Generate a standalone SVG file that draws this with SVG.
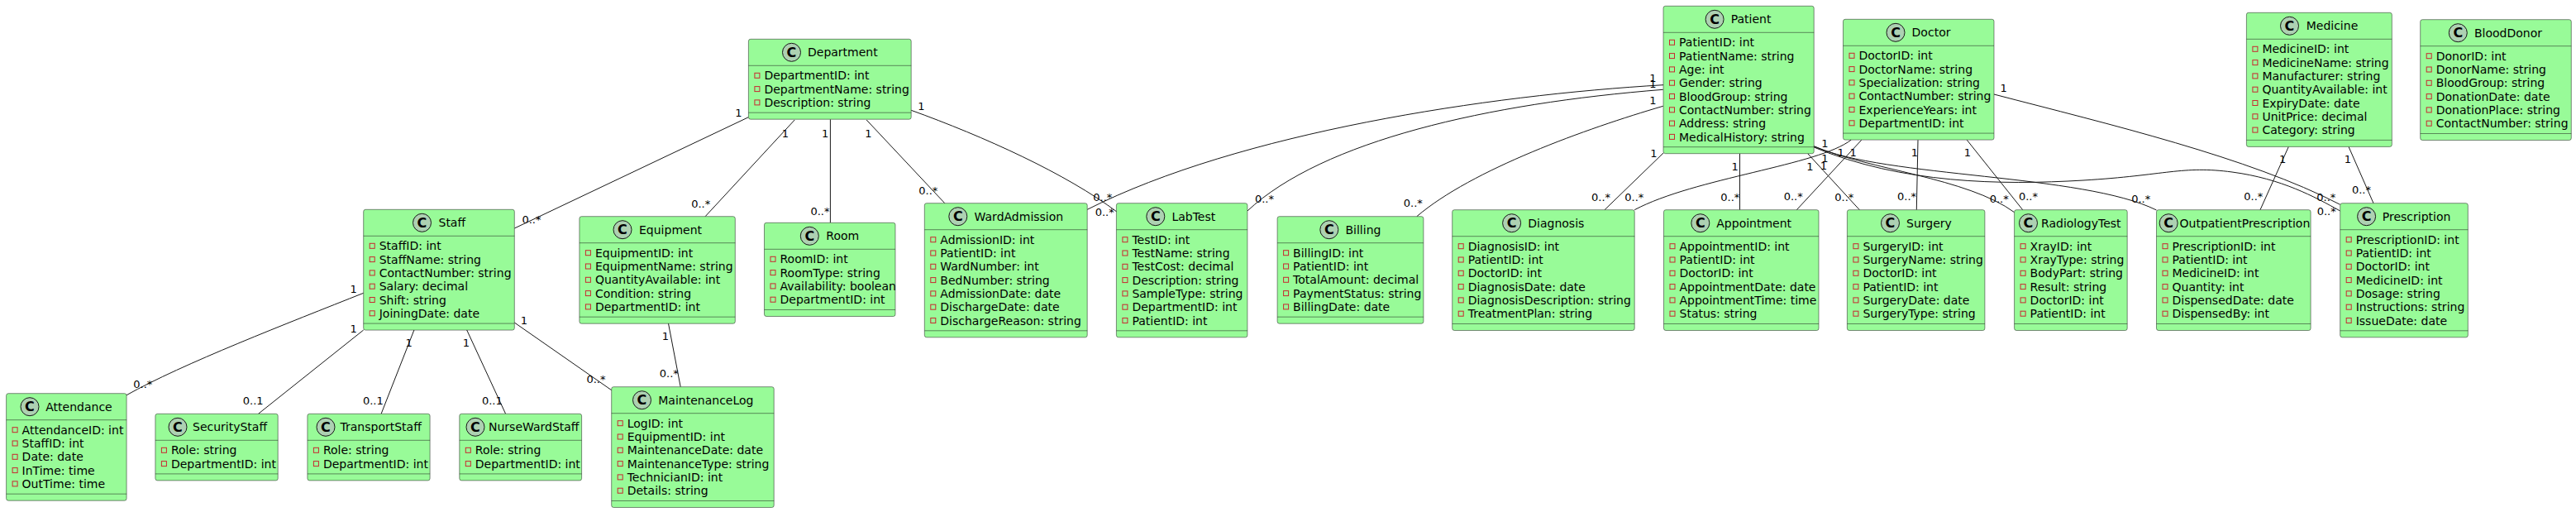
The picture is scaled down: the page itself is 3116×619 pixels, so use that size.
<svg xmlns="http://www.w3.org/2000/svg" width="3116" height="619" viewBox="0 0 3116 619">
<style>
.box{fill:#98FB98;stroke:#181818;stroke-width:0.5}
.dv{stroke:#181818;stroke-width:0.5}
.ci{fill:#ADD1B2;stroke:#181818;stroke-width:1}
.cl{font-family:"DejaVu Sans",sans-serif;font-weight:bold;font-size:16px;text-anchor:middle;fill:#000}
.t{font-family:"DejaVu Sans",sans-serif;font-size:14px;fill:#000}
.pv{fill:none;stroke:#C82930;stroke-width:1}
.e{fill:none;stroke:#181818;stroke-width:1}
.lb{font-family:"DejaVu Sans",sans-serif;font-size:13px;text-anchor:middle;fill:#000}
</style>
<rect width="3116" height="619" fill="#FFFFFF"/>

<g id="connectors">
<path class="e" d="M905.4,141.7 L622.3,276"/>
<path class="e" d="M961.2,145 L853.1,261.7"/>
<path class="e" d="M1004.4,144.3 L1004.4,269.3"/>
<path class="e" d="M1048.2,145 L1142.8,245.7"/>
<path class="e" d="M1102.2,133.3 C1190,165 1290,210 1351.8,256.7"/>
<path class="e" d="M2012,102.7 C1800,115 1500,160 1315.2,253.3"/>
<path class="e" d="M2011.7,108.3 C1800,125 1600,170 1508.9,255"/>
<path class="e" d="M2011.7,128.3 C1920,155 1780,205 1713.8,261.7"/>
<path class="e" d="M2012,185 L1941,253.7"/>
<path class="e" d="M2239.3,169 C2200,200 2050,215 1977.2,253.7"/>
<path class="e" d="M2104.5,185.7 L2104.5,253.7"/>
<path class="e" d="M2251.7,169.3 L2173.3,253.7"/>
<path class="e" d="M2186.7,185.7 L2249.3,253.7"/>
<path class="e" d="M2320,169.3 L2318.3,253.7"/>
<path class="e" d="M2379.3,169.3 L2446.7,253.7"/>
<path class="e" d="M2194.2,176.7 C2260,205 2380,215 2436.6,256.7"/>
<path class="e" d="M2194.2,177 C2280,215 2520,210 2608.5,254"/>
<path class="e" d="M2194.2,178 C2300,222 2420,224 2520,218 S2640,200 2700,208 S2800,238 2830.7,255"/>
<path class="e" d="M2412,114 C2550,150 2720,190 2830.7,247.3"/>
<path class="e" d="M2841,177.4 L2871,245.7"/>
<path class="e" d="M2768.3,177.4 L2734,253.7"/>
<path class="e" d="M439.7,354.3 C350,390 220,440 153.1,477.7"/>
<path class="e" d="M439.7,399 L312.5,500.3"/>
<path class="e" d="M500.9,399 L461.1,500.3"/>
<path class="e" d="M564.7,399 L611.6,500.3"/>
<path class="e" d="M622.3,390 L739.7,471.7"/>
<path class="e" d="M808.5,391 L823.2,467.7"/>

<text class="lb" x="893.3" y="141.4">1</text><text class="lb" x="642.9" y="269.7">0..*</text>
<text class="lb" x="950" y="165.7">1</text><text class="lb" x="847.7" y="251.4">0..*</text>
<text class="lb" x="998.2" y="165.7">1</text><text class="lb" x="992" y="259.7">0..*</text>
<text class="lb" x="1050.4" y="165.7">1</text><text class="lb" x="1122.8" y="234.7">0..*</text>
<text class="lb" x="1114.3" y="133">1</text><text class="lb" x="1336.2" y="261.4">0..*</text>
<text class="lb" x="1999.5" y="99">1</text><text class="lb" x="1333.8" y="243">0..*</text>
<text class="lb" x="1999.5" y="106.4">1</text><text class="lb" x="1529.5" y="245.4">0..*</text>
<text class="lb" x="1999.5" y="125.7">1</text><text class="lb" x="1709.3" y="250.4">0..*</text>
<text class="lb" x="2000.4" y="190.4">1</text><text class="lb" x="1936.6" y="243">0..*</text>
<text class="lb" x="2226.7" y="189">1</text><text class="lb" x="1976.8" y="243">0..*</text>
<text class="lb" x="2098.6" y="206.4">1</text><text class="lb" x="2092.8" y="243">0..*</text>
<text class="lb" x="2241.7" y="189">1</text><text class="lb" x="2169.2" y="242.4">0..*</text>
<text class="lb" x="2189.3" y="206.4">1</text><text class="lb" x="2230.8" y="243">0..*</text>
<text class="lb" x="2316" y="189">1</text><text class="lb" x="2306.6" y="242.4">0..*</text>
<text class="lb" x="2380" y="189">1</text><text class="lb" x="2453.5" y="242.4">0..*</text>
<text class="lb" x="2207.3" y="178">1</text><text class="lb" x="2418.2" y="245.4">0..*</text>
<text class="lb" x="2207.3" y="196.4">1</text><text class="lb" x="2589.7" y="244.7">0..*</text>
<text class="lb" x="2206" y="204.7">1</text><text class="lb" x="2814.2" y="260.4">0..*</text>
<text class="lb" x="2423.7" y="111.4">1</text><text class="lb" x="2813.8" y="243">0..*</text>
<text class="lb" x="2840" y="197.4">1</text><text class="lb" x="2856.5" y="234">0..*</text>
<text class="lb" x="2761.2" y="197.4">1</text><text class="lb" x="2725.8" y="242.4">0..*</text>
<text class="lb" x="427.7" y="353.7">1</text><text class="lb" x="172.8" y="469">0..*</text>
<text class="lb" x="427.7" y="402.4">1</text><text class="lb" x="306.2" y="489">0..1</text>
<text class="lb" x="494.6" y="419">1</text><text class="lb" x="451.3" y="489">0..1</text>
<text class="lb" x="563.8" y="419">1</text><text class="lb" x="595.3" y="489">0..1</text>
<text class="lb" x="633.9" y="392.4">1</text><text class="lb" x="721" y="463">0..*</text>
<text class="lb" x="804.9" y="411.4">1</text><text class="lb" x="809.3" y="456.4">0..*</text>
</g>

<g id="Department" transform="translate(905.4,47.3)">
<rect class="box" width="196.8" height="96.9" rx="2.5"/>
<circle class="ci" cx="52.1" cy="16" r="11"/><text class="cl" x="52.1" y="21.8">C</text>
<text class="t" x="71.6" y="21">Department</text>
<line class="dv" x1="0" y1="32" x2="196.8" y2="32"/>
<rect class="pv" x="7.5" y="41" width="6" height="6"/><text class="t" x="19" y="49.15">DepartmentID: int</text>
<rect class="pv" x="7.5" y="57.3" width="6" height="6"/><text class="t" x="19" y="65.45">DepartmentName: string</text>
<rect class="pv" x="7.5" y="73.6" width="6" height="6"/><text class="t" x="19" y="81.75">Description: string</text>
<line class="dv" x1="0" y1="88.9" x2="196.8" y2="88.9"/>
</g>

<g id="Staff" transform="translate(439.7,253.3)">
<rect class="box" width="182.6" height="145.8" rx="2.5"/>
<circle class="ci" cx="70.8" cy="16" r="11"/><text class="cl" x="70.8" y="21.8">C</text>
<text class="t" x="90.8" y="21">Staff</text>
<line class="dv" x1="0" y1="32" x2="182.6" y2="32"/>
<rect class="pv" x="7.5" y="41" width="6" height="6"/><text class="t" x="19" y="49.15">StaffID: int</text>
<rect class="pv" x="7.5" y="57.3" width="6" height="6"/><text class="t" x="19" y="65.45">StaffName: string</text>
<rect class="pv" x="7.5" y="73.6" width="6" height="6"/><text class="t" x="19" y="81.75">ContactNumber: string</text>
<rect class="pv" x="7.5" y="89.9" width="6" height="6"/><text class="t" x="19" y="98.05">Salary: decimal</text>
<rect class="pv" x="7.5" y="106.2" width="6" height="6"/><text class="t" x="19" y="114.35">Shift: string</text>
<rect class="pv" x="7.5" y="122.5" width="6" height="6"/><text class="t" x="19" y="130.65">JoiningDate: date</text>
<line class="dv" x1="0" y1="137.8" x2="182.6" y2="137.8"/>
</g>

<g id="Attendance" transform="translate(7.6,475.7)">
<rect class="box" width="145.5" height="129.5" rx="2.5"/>
<circle class="ci" cx="28.4" cy="16" r="11"/><text class="cl" x="28.4" y="21.8">C</text>
<text class="t" x="47.7" y="21">Attendance</text>
<line class="dv" x1="0" y1="32" x2="145.5" y2="32"/>
<rect class="pv" x="7.5" y="41" width="6" height="6"/><text class="t" x="19" y="49.15">AttendanceID: int</text>
<rect class="pv" x="7.5" y="57.3" width="6" height="6"/><text class="t" x="19" y="65.45">StaffID: int</text>
<rect class="pv" x="7.5" y="73.6" width="6" height="6"/><text class="t" x="19" y="81.75">Date: date</text>
<rect class="pv" x="7.5" y="89.9" width="6" height="6"/><text class="t" x="19" y="98.05">InTime: time</text>
<rect class="pv" x="7.5" y="106.2" width="6" height="6"/><text class="t" x="19" y="114.35">OutTime: time</text>
<line class="dv" x1="0" y1="121.5" x2="145.5" y2="121.5"/>
</g>

<g id="SecurityStaff" transform="translate(187.9,500.3)">
<rect class="box" width="148.3" height="80.6" rx="2.5"/>
<circle class="ci" cx="27.1" cy="16" r="11"/><text class="cl" x="27.1" y="21.8">C</text>
<text class="t" x="45.1" y="21">SecurityStaff</text>
<line class="dv" x1="0" y1="32" x2="148.3" y2="32"/>
<rect class="pv" x="7.5" y="41" width="6" height="6"/><text class="t" x="19" y="49.15">Role: string</text>
<rect class="pv" x="7.5" y="57.3" width="6" height="6"/><text class="t" x="19" y="65.45">DepartmentID: int</text>
<line class="dv" x1="0" y1="72.6" x2="148.3" y2="72.6"/>
</g>

<g id="TransportStaff" transform="translate(371.9,500.3)">
<rect class="box" width="148.2" height="80.6" rx="2.5"/>
<circle class="ci" cx="22.1" cy="16" r="11"/><text class="cl" x="22.1" y="21.8">C</text>
<text class="t" x="39.6" y="21">TransportStaff</text>
<line class="dv" x1="0" y1="32" x2="148.2" y2="32"/>
<rect class="pv" x="7.5" y="41" width="6" height="6"/><text class="t" x="19" y="49.15">Role: string</text>
<rect class="pv" x="7.5" y="57.3" width="6" height="6"/><text class="t" x="19" y="65.45">DepartmentID: int</text>
<line class="dv" x1="0" y1="72.6" x2="148.2" y2="72.6"/>
</g>

<g id="NurseWardStaff" transform="translate(555.8,500.3)">
<rect class="box" width="147.8" height="80.6" rx="2.5"/>
<circle class="ci" cx="19.2" cy="16" r="11"/><text class="cl" x="19.2" y="21.8">C</text>
<text class="t" x="35.2" y="21">NurseWardStaff</text>
<line class="dv" x1="0" y1="32" x2="147.8" y2="32"/>
<rect class="pv" x="7.5" y="41" width="6" height="6"/><text class="t" x="19" y="49.15">Role: string</text>
<rect class="pv" x="7.5" y="57.3" width="6" height="6"/><text class="t" x="19" y="65.45">DepartmentID: int</text>
<line class="dv" x1="0" y1="72.6" x2="147.8" y2="72.6"/>
</g>

<g id="MaintenanceLog" transform="translate(739.7,467.7)">
<rect class="box" width="196.5" height="145.8" rx="2.5"/>
<circle class="ci" cx="36.8" cy="16" r="11"/><text class="cl" x="36.8" y="21.8">C</text>
<text class="t" x="56.6" y="21">MaintenanceLog</text>
<line class="dv" x1="0" y1="32" x2="196.5" y2="32"/>
<rect class="pv" x="7.5" y="41" width="6" height="6"/><text class="t" x="19" y="49.15">LogID: int</text>
<rect class="pv" x="7.5" y="57.3" width="6" height="6"/><text class="t" x="19" y="65.45">EquipmentID: int</text>
<rect class="pv" x="7.5" y="73.6" width="6" height="6"/><text class="t" x="19" y="81.75">MaintenanceDate: date</text>
<rect class="pv" x="7.5" y="89.9" width="6" height="6"/><text class="t" x="19" y="98.05">MaintenanceType: string</text>
<rect class="pv" x="7.5" y="106.2" width="6" height="6"/><text class="t" x="19" y="114.35">TechnicianID: int</text>
<rect class="pv" x="7.5" y="122.5" width="6" height="6"/><text class="t" x="19" y="130.65">Details: string</text>
<line class="dv" x1="0" y1="137.8" x2="196.5" y2="137.8"/>
</g>

<g id="Equipment" transform="translate(700.9,261.7)">
<rect class="box" width="188.4" height="129.5" rx="2.5"/>
<circle class="ci" cx="52.1" cy="16" r="11"/><text class="cl" x="52.1" y="21.8">C</text>
<text class="t" x="72.1" y="21">Equipment</text>
<line class="dv" x1="0" y1="32" x2="188.4" y2="32"/>
<rect class="pv" x="7.5" y="41" width="6" height="6"/><text class="t" x="19" y="49.15">EquipmentID: int</text>
<rect class="pv" x="7.5" y="57.3" width="6" height="6"/><text class="t" x="19" y="65.45">EquipmentName: string</text>
<rect class="pv" x="7.5" y="73.6" width="6" height="6"/><text class="t" x="19" y="81.75">QuantityAvailable: int</text>
<rect class="pv" x="7.5" y="89.9" width="6" height="6"/><text class="t" x="19" y="98.05">Condition: string</text>
<rect class="pv" x="7.5" y="106.2" width="6" height="6"/><text class="t" x="19" y="114.35">DepartmentID: int</text>
<line class="dv" x1="0" y1="121.5" x2="188.4" y2="121.5"/>
</g>

<g id="Room" transform="translate(924.5,269.3)">
<rect class="box" width="158.5" height="113.2" rx="2.5"/>
<circle class="ci" cx="54.8" cy="16" r="11"/><text class="cl" x="54.8" y="21.8">C</text>
<text class="t" x="74.8" y="21">Room</text>
<line class="dv" x1="0" y1="32" x2="158.5" y2="32"/>
<rect class="pv" x="7.5" y="41" width="6" height="6"/><text class="t" x="19" y="49.15">RoomID: int</text>
<rect class="pv" x="7.5" y="57.3" width="6" height="6"/><text class="t" x="19" y="65.45">RoomType: string</text>
<rect class="pv" x="7.5" y="73.6" width="6" height="6"/><text class="t" x="19" y="81.75">Availability: boolean</text>
<rect class="pv" x="7.5" y="89.9" width="6" height="6"/><text class="t" x="19" y="98.05">DepartmentID: int</text>
<line class="dv" x1="0" y1="105.2" x2="158.5" y2="105.2"/>
</g>

<g id="WardAdmission" transform="translate(1118.3,245.7)">
<rect class="box" width="196.9" height="162.1" rx="2.5"/>
<circle class="ci" cx="40.5" cy="16" r="11"/><text class="cl" x="40.5" y="21.8">C</text>
<text class="t" x="60.3" y="21">WardAdmission</text>
<line class="dv" x1="0" y1="32" x2="196.9" y2="32"/>
<rect class="pv" x="7.5" y="41" width="6" height="6"/><text class="t" x="19" y="49.15">AdmissionID: int</text>
<rect class="pv" x="7.5" y="57.3" width="6" height="6"/><text class="t" x="19" y="65.45">PatientID: int</text>
<rect class="pv" x="7.5" y="73.6" width="6" height="6"/><text class="t" x="19" y="81.75">WardNumber: int</text>
<rect class="pv" x="7.5" y="89.9" width="6" height="6"/><text class="t" x="19" y="98.05">BedNumber: string</text>
<rect class="pv" x="7.5" y="106.2" width="6" height="6"/><text class="t" x="19" y="114.35">AdmissionDate: date</text>
<rect class="pv" x="7.5" y="122.5" width="6" height="6"/><text class="t" x="19" y="130.65">DischargeDate: date</text>
<rect class="pv" x="7.5" y="138.8" width="6" height="6"/><text class="t" x="19" y="146.95">DischargeReason: string</text>
<line class="dv" x1="0" y1="154.1" x2="196.9" y2="154.1"/>
</g>

<g id="LabTest" transform="translate(1350.4,245.7)">
<rect class="box" width="158.5" height="162.1" rx="2.5"/>
<circle class="ci" cx="47.4" cy="16" r="11"/><text class="cl" x="47.4" y="21.8">C</text>
<text class="t" x="67" y="21">LabTest</text>
<line class="dv" x1="0" y1="32" x2="158.5" y2="32"/>
<rect class="pv" x="7.5" y="41" width="6" height="6"/><text class="t" x="19" y="49.15">TestID: int</text>
<rect class="pv" x="7.5" y="57.3" width="6" height="6"/><text class="t" x="19" y="65.45">TestName: string</text>
<rect class="pv" x="7.5" y="73.6" width="6" height="6"/><text class="t" x="19" y="81.75">TestCost: decimal</text>
<rect class="pv" x="7.5" y="89.9" width="6" height="6"/><text class="t" x="19" y="98.05">Description: string</text>
<rect class="pv" x="7.5" y="106.2" width="6" height="6"/><text class="t" x="19" y="114.35">SampleType: string</text>
<rect class="pv" x="7.5" y="122.5" width="6" height="6"/><text class="t" x="19" y="130.65">DepartmentID: int</text>
<rect class="pv" x="7.5" y="138.8" width="6" height="6"/><text class="t" x="19" y="146.95">PatientID: int</text>
<line class="dv" x1="0" y1="154.1" x2="158.5" y2="154.1"/>
</g>

<g id="Billing" transform="translate(1545.1,261.7)">
<rect class="box" width="176.8" height="129.5" rx="2.5"/>
<circle class="ci" cx="62.7" cy="16" r="11"/><text class="cl" x="62.7" y="21.8">C</text>
<text class="t" x="82.4" y="21">Billing</text>
<line class="dv" x1="0" y1="32" x2="176.8" y2="32"/>
<rect class="pv" x="7.5" y="41" width="6" height="6"/><text class="t" x="19" y="49.15">BillingID: int</text>
<rect class="pv" x="7.5" y="57.3" width="6" height="6"/><text class="t" x="19" y="65.45">PatientID: int</text>
<rect class="pv" x="7.5" y="73.6" width="6" height="6"/><text class="t" x="19" y="81.75">TotalAmount: decimal</text>
<rect class="pv" x="7.5" y="89.9" width="6" height="6"/><text class="t" x="19" y="98.05">PaymentStatus: string</text>
<rect class="pv" x="7.5" y="106.2" width="6" height="6"/><text class="t" x="19" y="114.35">BillingDate: date</text>
<line class="dv" x1="0" y1="121.5" x2="176.8" y2="121.5"/>
</g>

<g id="Diagnosis" transform="translate(1756.7,253.7)">
<rect class="box" width="220.5" height="145.8" rx="2.5"/>
<circle class="ci" cx="71.9" cy="16" r="11"/><text class="cl" x="71.9" y="21.8">C</text>
<text class="t" x="91.6" y="21">Diagnosis</text>
<line class="dv" x1="0" y1="32" x2="220.5" y2="32"/>
<rect class="pv" x="7.5" y="41" width="6" height="6"/><text class="t" x="19" y="49.15">DiagnosisID: int</text>
<rect class="pv" x="7.5" y="57.3" width="6" height="6"/><text class="t" x="19" y="65.45">PatientID: int</text>
<rect class="pv" x="7.5" y="73.6" width="6" height="6"/><text class="t" x="19" y="81.75">DoctorID: int</text>
<rect class="pv" x="7.5" y="89.9" width="6" height="6"/><text class="t" x="19" y="98.05">DiagnosisDate: date</text>
<rect class="pv" x="7.5" y="106.2" width="6" height="6"/><text class="t" x="19" y="114.35">DiagnosisDescription: string</text>
<rect class="pv" x="7.5" y="122.5" width="6" height="6"/><text class="t" x="19" y="130.65">TreatmentPlan: string</text>
<line class="dv" x1="0" y1="137.8" x2="220.5" y2="137.8"/>
</g>

<g id="Patient" transform="translate(2012,7.3)">
<rect class="box" width="182.2" height="178.4" rx="2.5"/>
<circle class="ci" cx="62.1" cy="16" r="11"/><text class="cl" x="62.1" y="21.8">C</text>
<text class="t" x="81.7" y="21">Patient</text>
<line class="dv" x1="0" y1="32" x2="182.2" y2="32"/>
<rect class="pv" x="7.5" y="41" width="6" height="6"/><text class="t" x="19" y="49.15">PatientID: int</text>
<rect class="pv" x="7.5" y="57.3" width="6" height="6"/><text class="t" x="19" y="65.45">PatientName: string</text>
<rect class="pv" x="7.5" y="73.6" width="6" height="6"/><text class="t" x="19" y="81.75">Age: int</text>
<rect class="pv" x="7.5" y="89.9" width="6" height="6"/><text class="t" x="19" y="98.05">Gender: string</text>
<rect class="pv" x="7.5" y="106.2" width="6" height="6"/><text class="t" x="19" y="114.35">BloodGroup: string</text>
<rect class="pv" x="7.5" y="122.5" width="6" height="6"/><text class="t" x="19" y="130.65">ContactNumber: string</text>
<rect class="pv" x="7.5" y="138.8" width="6" height="6"/><text class="t" x="19" y="146.95">Address: string</text>
<rect class="pv" x="7.5" y="155.1" width="6" height="6"/><text class="t" x="19" y="163.25">MedicalHistory: string</text>
<line class="dv" x1="0" y1="170.4" x2="182.2" y2="170.4"/>
</g>

<g id="Appointment" transform="translate(2012.5,253.7)">
<rect class="box" width="187.5" height="145.8" rx="2.5"/>
<circle class="ci" cx="44.3" cy="16" r="11"/><text class="cl" x="44.3" y="21.8">C</text>
<text class="t" x="63.8" y="21">Appointment</text>
<line class="dv" x1="0" y1="32" x2="187.5" y2="32"/>
<rect class="pv" x="7.5" y="41" width="6" height="6"/><text class="t" x="19" y="49.15">AppointmentID: int</text>
<rect class="pv" x="7.5" y="57.3" width="6" height="6"/><text class="t" x="19" y="65.45">PatientID: int</text>
<rect class="pv" x="7.5" y="73.6" width="6" height="6"/><text class="t" x="19" y="81.75">DoctorID: int</text>
<rect class="pv" x="7.5" y="89.9" width="6" height="6"/><text class="t" x="19" y="98.05">AppointmentDate: date</text>
<rect class="pv" x="7.5" y="106.2" width="6" height="6"/><text class="t" x="19" y="114.35">AppointmentTime: time</text>
<rect class="pv" x="7.5" y="122.5" width="6" height="6"/><text class="t" x="19" y="130.65">Status: string</text>
<line class="dv" x1="0" y1="137.8" x2="187.5" y2="137.8"/>
</g>

<g id="Doctor" transform="translate(2229.5,23.3)">
<rect class="box" width="182.5" height="145.8" rx="2.5"/>
<circle class="ci" cx="63.5" cy="16" r="11"/><text class="cl" x="63.5" y="21.8">C</text>
<text class="t" x="83.1" y="21">Doctor</text>
<line class="dv" x1="0" y1="32" x2="182.5" y2="32"/>
<rect class="pv" x="7.5" y="41" width="6" height="6"/><text class="t" x="19" y="49.15">DoctorID: int</text>
<rect class="pv" x="7.5" y="57.3" width="6" height="6"/><text class="t" x="19" y="65.45">DoctorName: string</text>
<rect class="pv" x="7.5" y="73.6" width="6" height="6"/><text class="t" x="19" y="81.75">Specialization: string</text>
<rect class="pv" x="7.5" y="89.9" width="6" height="6"/><text class="t" x="19" y="98.05">ContactNumber: string</text>
<rect class="pv" x="7.5" y="106.2" width="6" height="6"/><text class="t" x="19" y="114.35">ExperienceYears: int</text>
<rect class="pv" x="7.5" y="122.5" width="6" height="6"/><text class="t" x="19" y="130.65">DepartmentID: int</text>
<line class="dv" x1="0" y1="137.8" x2="182.5" y2="137.8"/>
</g>

<g id="Surgery" transform="translate(2234.4,253.7)">
<rect class="box" width="166.5" height="145.8" rx="2.5"/>
<circle class="ci" cx="52.1" cy="16" r="11"/><text class="cl" x="52.1" y="21.8">C</text>
<text class="t" x="71.6" y="21">Surgery</text>
<line class="dv" x1="0" y1="32" x2="166.5" y2="32"/>
<rect class="pv" x="7.5" y="41" width="6" height="6"/><text class="t" x="19" y="49.15">SurgeryID: int</text>
<rect class="pv" x="7.5" y="57.3" width="6" height="6"/><text class="t" x="19" y="65.45">SurgeryName: string</text>
<rect class="pv" x="7.5" y="73.6" width="6" height="6"/><text class="t" x="19" y="81.75">DoctorID: int</text>
<rect class="pv" x="7.5" y="89.9" width="6" height="6"/><text class="t" x="19" y="98.05">PatientID: int</text>
<rect class="pv" x="7.5" y="106.2" width="6" height="6"/><text class="t" x="19" y="114.35">SurgeryDate: date</text>
<rect class="pv" x="7.5" y="122.5" width="6" height="6"/><text class="t" x="19" y="130.65">SurgeryType: string</text>
<line class="dv" x1="0" y1="137.8" x2="166.5" y2="137.8"/>
</g>

<g id="RadiologyTest" transform="translate(2436.6,253.7)">
<rect class="box" width="136.6" height="145.8" rx="2.5"/>
<circle class="ci" cx="16.9" cy="16" r="11"/><text class="cl" x="16.9" y="21.8">C</text>
<text class="t" x="32.4" y="21">RadiologyTest</text>
<line class="dv" x1="0" y1="32" x2="136.6" y2="32"/>
<rect class="pv" x="7.5" y="41" width="6" height="6"/><text class="t" x="19" y="49.15">XrayID: int</text>
<rect class="pv" x="7.5" y="57.3" width="6" height="6"/><text class="t" x="19" y="65.45">XrayType: string</text>
<rect class="pv" x="7.5" y="73.6" width="6" height="6"/><text class="t" x="19" y="81.75">BodyPart: string</text>
<rect class="pv" x="7.5" y="89.9" width="6" height="6"/><text class="t" x="19" y="98.05">Result: string</text>
<rect class="pv" x="7.5" y="106.2" width="6" height="6"/><text class="t" x="19" y="114.35">DoctorID: int</text>
<rect class="pv" x="7.5" y="122.5" width="6" height="6"/><text class="t" x="19" y="130.65">PatientID: int</text>
<line class="dv" x1="0" y1="137.8" x2="136.6" y2="137.8"/>
</g>

<g id="OutpatientPrescription" transform="translate(2608.5,253.7)">
<rect class="box" width="186.6" height="145.8" rx="2.5"/>
<circle class="ci" cx="14.7" cy="16" r="11"/><text class="cl" x="14.7" y="21.8">C</text>
<text class="t" x="28" y="21">OutpatientPrescription</text>
<line class="dv" x1="0" y1="32" x2="186.6" y2="32"/>
<rect class="pv" x="7.5" y="41" width="6" height="6"/><text class="t" x="19" y="49.15">PrescriptionID: int</text>
<rect class="pv" x="7.5" y="57.3" width="6" height="6"/><text class="t" x="19" y="65.45">PatientID: int</text>
<rect class="pv" x="7.5" y="73.6" width="6" height="6"/><text class="t" x="19" y="81.75">MedicineID: int</text>
<rect class="pv" x="7.5" y="89.9" width="6" height="6"/><text class="t" x="19" y="98.05">Quantity: int</text>
<rect class="pv" x="7.5" y="106.2" width="6" height="6"/><text class="t" x="19" y="114.35">DispensedDate: date</text>
<rect class="pv" x="7.5" y="122.5" width="6" height="6"/><text class="t" x="19" y="130.65">DispensedBy: int</text>
<line class="dv" x1="0" y1="137.8" x2="186.6" y2="137.8"/>
</g>

<g id="Medicine" transform="translate(2717.4,15.3)">
<rect class="box" width="175.9" height="162.1" rx="2.5"/>
<circle class="ci" cx="52.1" cy="16" r="11"/><text class="cl" x="52.1" y="21.8">C</text>
<text class="t" x="72.3" y="21">Medicine</text>
<line class="dv" x1="0" y1="32" x2="175.9" y2="32"/>
<rect class="pv" x="7.5" y="41" width="6" height="6"/><text class="t" x="19" y="49.15">MedicineID: int</text>
<rect class="pv" x="7.5" y="57.3" width="6" height="6"/><text class="t" x="19" y="65.45">MedicineName: string</text>
<rect class="pv" x="7.5" y="73.6" width="6" height="6"/><text class="t" x="19" y="81.75">Manufacturer: string</text>
<rect class="pv" x="7.5" y="89.9" width="6" height="6"/><text class="t" x="19" y="98.05">QuantityAvailable: int</text>
<rect class="pv" x="7.5" y="106.2" width="6" height="6"/><text class="t" x="19" y="114.35">ExpiryDate: date</text>
<rect class="pv" x="7.5" y="122.5" width="6" height="6"/><text class="t" x="19" y="130.65">UnitPrice: decimal</text>
<rect class="pv" x="7.5" y="138.8" width="6" height="6"/><text class="t" x="19" y="146.95">Category: string</text>
<line class="dv" x1="0" y1="154.1" x2="175.9" y2="154.1"/>
</g>

<g id="BloodDonor" transform="translate(2927.7,23.7)">
<rect class="box" width="182.6" height="145.8" rx="2.5"/>
<circle class="ci" cx="45.6" cy="16" r="11"/><text class="cl" x="45.6" y="21.8">C</text>
<text class="t" x="65.3" y="21">BloodDonor</text>
<line class="dv" x1="0" y1="32" x2="182.6" y2="32"/>
<rect class="pv" x="7.5" y="41" width="6" height="6"/><text class="t" x="19" y="49.15">DonorID: int</text>
<rect class="pv" x="7.5" y="57.3" width="6" height="6"/><text class="t" x="19" y="65.45">DonorName: string</text>
<rect class="pv" x="7.5" y="73.6" width="6" height="6"/><text class="t" x="19" y="81.75">BloodGroup: string</text>
<rect class="pv" x="7.5" y="89.9" width="6" height="6"/><text class="t" x="19" y="98.05">DonationDate: date</text>
<rect class="pv" x="7.5" y="106.2" width="6" height="6"/><text class="t" x="19" y="114.35">DonationPlace: string</text>
<rect class="pv" x="7.5" y="122.5" width="6" height="6"/><text class="t" x="19" y="130.65">ContactNumber: string</text>
<line class="dv" x1="0" y1="137.8" x2="182.6" y2="137.8"/>
</g>

<g id="Prescription" transform="translate(2830.7,245.7)">
<rect class="box" width="154.6" height="162.1" rx="2.5"/>
<circle class="ci" cx="31.9" cy="16" r="11"/><text class="cl" x="31.9" y="21.8">C</text>
<text class="t" x="51.1" y="21">Prescription</text>
<line class="dv" x1="0" y1="32" x2="154.6" y2="32"/>
<rect class="pv" x="7.5" y="41" width="6" height="6"/><text class="t" x="19" y="49.15">PrescriptionID: int</text>
<rect class="pv" x="7.5" y="57.3" width="6" height="6"/><text class="t" x="19" y="65.45">PatientID: int</text>
<rect class="pv" x="7.5" y="73.6" width="6" height="6"/><text class="t" x="19" y="81.75">DoctorID: int</text>
<rect class="pv" x="7.5" y="89.9" width="6" height="6"/><text class="t" x="19" y="98.05">MedicineID: int</text>
<rect class="pv" x="7.5" y="106.2" width="6" height="6"/><text class="t" x="19" y="114.35">Dosage: string</text>
<rect class="pv" x="7.5" y="122.5" width="6" height="6"/><text class="t" x="19" y="130.65">Instructions: string</text>
<rect class="pv" x="7.5" y="138.8" width="6" height="6"/><text class="t" x="19" y="146.95">IssueDate: date</text>
<line class="dv" x1="0" y1="154.1" x2="154.6" y2="154.1"/>
</g>
</svg>
